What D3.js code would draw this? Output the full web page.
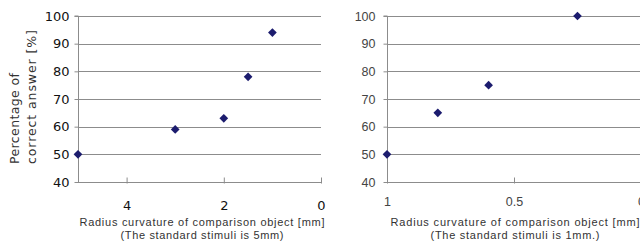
<!DOCTYPE html>
<html><head><meta charset="utf-8">
<script src="https://cdn.jsdelivr.net/npm/d3@7"></script>
<style>body{margin:0;background:#fff}svg{display:block}</style>
</head><body>
<svg id="c" width="640" height="244"></svg>
<script>
// Data
const leftX = [5, 3, 2, 1.5, 1];
const leftY = [50, 59, 63, 78, 94];
const rightX = [1, 0.8, 0.6, 0.25];
const rightY = [50, 65, 75, 100];
const yTicks = [40, 50, 60, 70, 80, 90, 100];
const leftXTicks = [4, 2, 0];
const rightXTicks = [1, 0.5, 0];
const yTitle = ["Percentage of", "correct answer [%]"];
const leftTitle = ["Radius curvature of comparison object [mm]", "(The standard stimuli is 5mm)"];
const rightTitle = ["Radius curvature of comparison object [mm]", "(The standard stimuli is 1mm.)"];

const svg = d3.select("#c");
const marker = "#1c1c6e";
const grid = "#8c8c8c";

function panel(o) {
  const x = d3.scaleLinear().domain(o.xDomain).range([o.x0, o.x1]);
  const y = d3.scaleLinear().domain([40, 100]).range([182, 16]);
  const g = svg.append("g");
  g.selectAll("line.grid").data(yTicks.filter(t => t > 40)).join("line")
    .attr("x1", o.x0).attr("x2", o.x1)
    .attr("y1", d => Math.round(y(d)) + 0.5).attr("y2", d => Math.round(y(d)) + 0.5)
    .attr("stroke", grid).attr("stroke-width", 1);
  const ya = d3.axisLeft(y).tickValues(yTicks).tickSize(4).tickPadding(o.yPad).tickFormat(d3.format("d"));
  const yg = g.append("g").attr("transform", `translate(${Math.round(o.x0) + 0.5},0)`).call(ya);
  yg.select(".domain").attr("stroke", grid).attr("d", `M-4,${y(100)}H0V${y(40)}`);
  yg.selectAll(".tick line").attr("stroke", grid);
  yg.selectAll("text").attr("font-family", o.font).attr("font-size", o.fs).attr("fill", o.tcol);
  const xa = d3.axisBottom(x).tickValues(o.xTicks).tickSize(0).tickPadding(0).tickFormat(o.fmt);
  const xg = g.append("g").attr("transform", `translate(0,${Math.round(y(40)) + 0.5})`).call(xa);
  xg.select(".domain").attr("stroke", grid).attr("d", `M${o.x0},0H${o.x1}`);
  xg.selectAll(".tick").append("line").attr("y1", -5).attr("y2", 1).attr("stroke", grid);
  xg.selectAll("text").attr("dy", null).attr("y", o.xLabY).attr("font-family", o.font).attr("font-size", o.fs).attr("fill", o.tcol);
  o.title.forEach((t, i) => {
    g.append("text").attr("x", o.tcx).attr("y", 226 + i * 13)
      .attr("text-anchor", "middle").attr("font-family", "Liberation Sans, Arial, sans-serif")
      .attr("font-size", 11).attr("fill", "#333")
      .attr("textLength", o.tlen[i]).attr("lengthAdjust", "spacing")
      .text(t);
  });
  const pts = o.xs.map((d, i) => [d, o.ys[i]]);
  g.selectAll("path.pt").data(pts).join("path")
    .attr("d", d3.symbol(d3.symbolSquare, 38)())
    .attr("transform", d => `translate(${x(d[0])},${y(d[1])}) rotate(45)`)
    .attr("fill", marker);
}

panel({xDomain: [5, 0], x0: 78, x1: 321, xTicks: leftXTicks, fmt: d3.format("d"),
  xs: leftX, ys: leftY, font: "DejaVu Sans, Verdana, sans-serif", fs: 13, tcol: "#111",
  yPad: 5, xLabY: 27, title: leftTitle, tcx: 202, tlen: [245, 163]});
panel({xDomain: [1, 0], x0: 387, x1: 641, xTicks: rightXTicks, fmt: d => d === 0.5 ? "0.5" : d3.format("d")(d),
  xs: rightX, ys: rightY, font: "Liberation Sans, Arial, sans-serif", fs: 12.5, tcol: "#444",
  yPad: 8, xLabY: 23, title: rightTitle, tcx: 515, tlen: [249, 169]});

yTitle.forEach((t, i) => {
  svg.append("text")
    .attr("transform", `translate(${19 + i * 17},164) rotate(-90)`)
    .attr("font-family", "DejaVu Sans, Verdana, sans-serif").attr("font-size", 12.5).attr("fill", "#333")
    .attr("textLength", i === 0 ? 91 : 134).attr("lengthAdjust", "spacing")
    .text(t);
});
</script>
</body></html>
